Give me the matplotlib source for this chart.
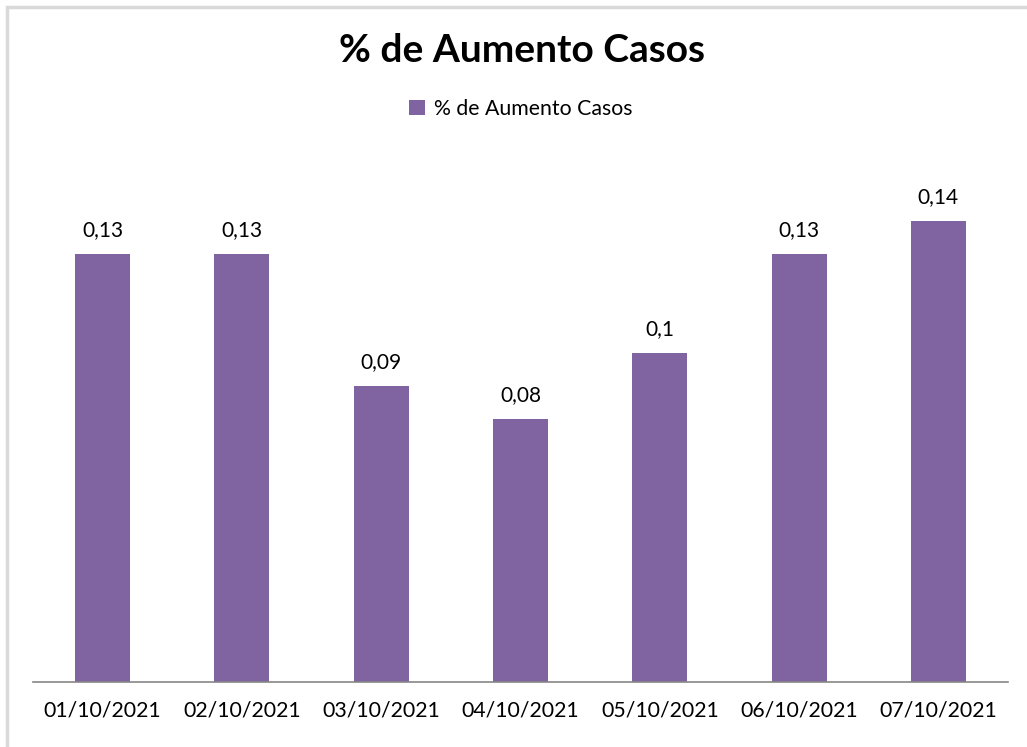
import matplotlib
matplotlib.use('Agg')
import matplotlib.pyplot as plt
from matplotlib.patches import Rectangle

# Daily percentage increase in cases
dates = ["01/10/2021", "02/10/2021", "03/10/2021", "04/10/2021",
         "05/10/2021", "06/10/2021", "07/10/2021"]
values = [0.13, 0.13, 0.09, 0.08, 0.10, 0.13, 0.14]
labels = ["0,13", "0,13", "0,09", "0,08", "0,1", "0,13", "0,14"]

plt.rcParams['font.family'] = ['Lato', 'DejaVu Sans']
purple = '#8064A2'

fig = plt.figure(figsize=(10.27, 7.47), dpi=100)
# light outer frame of the chart area
fig.patches.append(Rectangle((7 / 1027, -0.01), 1.1, 1 - 7 / 747 + 0.01,
                             transform=fig.transFigure, fill=False,
                             edgecolor='#d9d9d9', linewidth=2.5))

ax = fig.add_axes([33 / 1027, 0.087, (1008 - 33) / 1027, 0.7055])
x = range(len(dates))
bars = ax.bar(x, values, width=0.395, color=purple, label='% de Aumento Casos')

for b, lab in zip(bars, labels):
    ax.annotate(lab, xy=(b.get_x() + b.get_width() / 2, b.get_height()),
                xytext=(0, 10), textcoords='offset points',
                ha='center', va='bottom', fontsize=15, color='#000000')

ax.set_xlim(-0.5, len(dates) - 0.5)
ax.set_ylim(0, 0.16)
ax.set_xticks(list(x))
ax.set_xticklabels(dates, fontsize=15.3)
ax.tick_params(axis='x', length=0, pad=13)
ax.set_yticks([])
for s in ['top', 'right', 'left']:
    ax.spines[s].set_visible(False)
ax.spines['bottom'].set_color('#868686')
ax.spines['bottom'].set_linewidth(1.2)

fig.text(0.508, 0.933, '% de Aumento Casos', ha='center', va='center',
         fontsize=28, fontweight='bold')
fig.legend(loc='center', bbox_to_anchor=(0.507, 0.854), frameon=False,
           fontsize=15.3, handlelength=0.75, handleheight=0.75, handletextpad=0.4)

fig.savefig('out.png', dpi=100)
